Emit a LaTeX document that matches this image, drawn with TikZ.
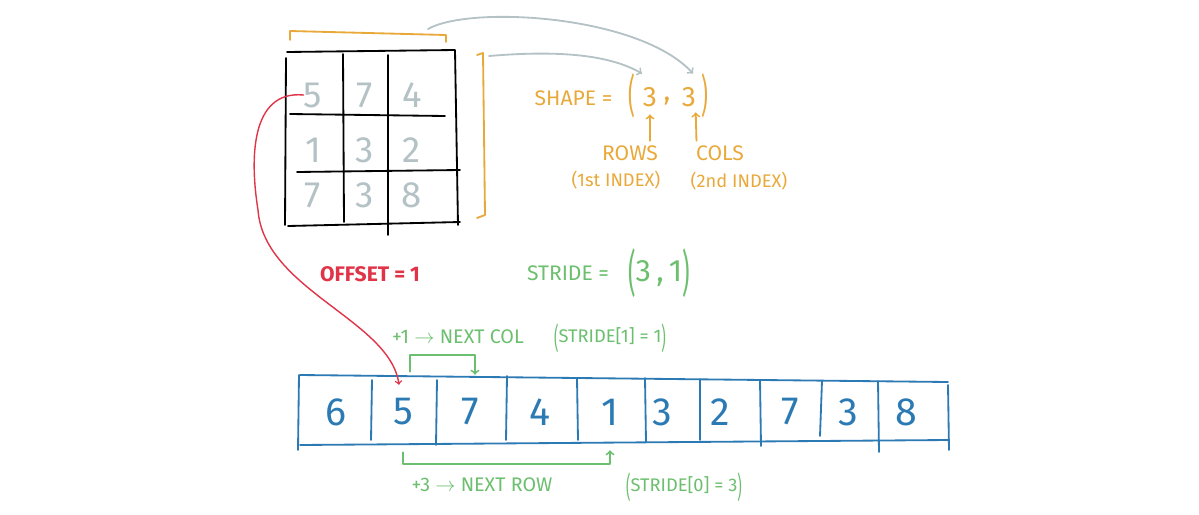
\documentclass[tikz,border=0pt]{standalone}
\usepackage{fontspec}
\setmainfont{Fira Sans}
\usepackage{xcolor}
\usetikzlibrary{arrows, positioning, calc}

\definecolor{shapeorange}{HTML}{E8A93A}
\definecolor{linkgray}{HTML}{B4C2C6}
\definecolor{offsetred}{HTML}{E03448}
\definecolor{stridegreen}{HTML}{6CBF6E}
\definecolor{memblue}{HTML}{2C7AB4}

\newcommand{\tallpar}[1]{\raisebox{-0.55ex}{\scalebox{0.75}[1.6]{#1}}}

\tikzset{
  hand/.style={line width=1.3pt, line cap=round, line join=round},
  mcell/.style={text=linkgray, font=\fontsize{26}{26}\selectfont, inner sep=0pt},
  acell/.style={text=memblue, font=\fontsize{28}{28}\selectfont, inner sep=0pt, minimum height=1.75cm},
  olabel/.style={text=shapeorange, font=\fontsize{15}{15}\selectfont, inner sep=1pt},
  glabel/.style={text=stridegreen, font=\fontsize{14}{14}\selectfont, inner sep=1pt}
}

\begin{document}
\begin{tikzpicture}[x=0.025cm, y=-0.025cm, >=to]
\useasboundingbox (0,0) rectangle (1199,514);

% 3x3 tensor grid
\draw[hand, black] (287,52) -- (455,50) (286,58) -- (285,225) (343,54) -- (344,222)
  (388,55) -- (388,235) (455,50) -- (458,225) (290,114) -- (445,116)
  (297,172) -- (460,170) (288,226) -- (460,222);

% values of the tensor
\node[mcell] (m11) at (313,95) {5};
\node[mcell] (m12) at (365,95) {7};
\node[mcell] (m13) at (412,95) {4};
\node[mcell] (m21) at (313,150) {1};
\node[mcell] (m22) at (365,150) {3};
\node[mcell] (m23) at (412,150) {2};
\node[mcell] (m31) at (313,195) {7};
\node[mcell] (m32) at (365,195) {3};
\node[mcell] (m33) at (412,195) {8};

% shape brackets
\draw[hand, shapeorange] (290,40) -- (290,31) -- (446,35) -- (446,42);
\coordinate (topbr) at (428,29);
\draw[hand, shapeorange] (477,55) -- (483,53) -- (485,215) -- (477,218);
\coordinate (sidebr) at (489,56);

% shape label
\node[olabel, anchor=east] (shapelbl) at (614,98) {SHAPE =};
\node[olabel, font=\fontsize{20}{20}\selectfont] (lpar) at (632,96) {\tallpar{(}};
\node[olabel, font=\fontsize{20}{20}\selectfont] (dim1) at (650,97) {3};
\node[olabel, font=\fontsize{20}{20}\selectfont] (comma) at (667,101) {,};
\node[olabel, font=\fontsize{20}{20}\selectfont] (dim2) at (689,97) {3};
\node[olabel, font=\fontsize{20}{20}\selectfont] (rpar) at (705,96) {\tallpar{)}};

\node[olabel] (rows) at (630,153) {ROWS};
\node[olabel, font=\fontsize{13}{13}\selectfont] (idx1) at (616,180) {(1st INDEX)};
\node[olabel] (cols) at (720,153) {COLS};
\node[olabel, font=\fontsize{13}{13}\selectfont] (idx2) at (739,181) {(2nd INDEX)};

\draw[hand, shapeorange, ->] (rows.north -| dim1) ++(0,-3) -- ($(dim1.south)+(0,6)$);
\draw[hand, shapeorange, ->] ($(cols.north west)+(2,-3)$) -- ($(dim2.south east)+(-2,4)$);

% links from brackets to shape
\draw[hand, linkgray, ->] (topbr) .. controls (470,5) and (640,15) .. ($(dim2.north)+(4,-12)$);
\draw[hand, linkgray, ->] (sidebr) .. controls (560,50) and (610,55) .. ($(dim1.north)+(-8,-12)$);

% offset and stride
\node[text=offsetred, font=\fontsize{15}{15}\selectfont\bfseries] (offset) at (370,274) {OFFSET = 1};
\node[glabel, font=\fontsize{15}{15}\selectfont] (stride) at (568,273) {STRIDE =};
\node[glabel, font=\fontsize{22}{22}\selectfont] (stridev) at (659,273) {\tallpar{(}3\,,\,1\tallpar{)}};

% storage array
\draw[hand, memblue] (300,375) -- (948,382) (300,445) -- (948,440)
  (299,375) -- (298,450) (372,380) -- (371,440) (437,380) -- (436,445)
  (507,376) -- (506,440) (577,378) -- (578,440) (645,378) -- (646,442)
  (700,379) -- (700,440) (760,380) -- (761,446) (822,381) -- (820,436)
  (878,381) -- (879,452) (948,385) -- (949,450);

\node[acell] (a1) at (336,412) {6};
\node[acell] (a2) at (403,412) {5};
\node[acell] (a3) at (470,412) {7};
\node[acell] (a4) at (540,412) {4};
\node[acell] (a5) at (610,412) {1};
\node[acell] (a6) at (662,412) {3};
\node[acell] (a7) at (720,412) {2};
\node[acell] (a8) at (790,412) {7};
\node[acell] (a9) at (848,412) {3};
\node[acell] (a10) at (906,412) {8};

% offset pointer
\coordinate (bend) at (258,210);
\draw[hand, offsetred, line width=1pt, ->] (m11.west) .. controls (250,90) and (250,160) .. (bend)
  .. controls (264,290) and (390,320) .. ($(a2.north)+(-4,8)$);

% stride along columns
\node[glabel] (nextcol) at (458,337) {+1 $\rightarrow$ NEXT COL};
\node[glabel, font=\fontsize{13}{13}\selectfont] (stride1) at (610,338) {\tallpar{(}STRIDE[1] = 1\tallpar{)}};
\draw[hand, stridegreen, ->] ($(a2.north)+(7,-5)$) -- ++(0,-17) -| ($(a3.north)+(5,-2)$);

% stride along rows
\draw[hand, stridegreen, ->] ($(a2.south)+(0,5)$) -- ++(0,12) -| ($(a5.south)+(0,3)$);
\node[glabel] (nextrow) at (482,485) {+3 $\rightarrow$ NEXT ROW};
\node[glabel, font=\fontsize{13}{13}\selectfont] (stride0) at (684,487) {\tallpar{(}STRIDE[0] = 3\tallpar{)}};
\end{tikzpicture}
\end{document}
